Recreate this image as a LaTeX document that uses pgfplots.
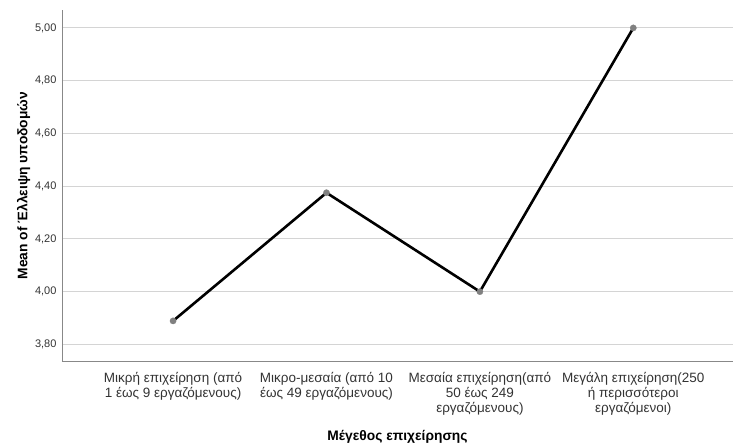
\documentclass[border=0pt]{standalone}
\usepackage{fontspec}
\setmainfont{Liberation Sans}
\usepackage{pgfplots}
\pgfplotsset{compat=1.18}
\definecolor{spssGrid}{HTML}{D4D4D4}
\definecolor{spssAxis}{HTML}{888888}
\definecolor{spssMark}{HTML}{808080}
\definecolor{spssText}{HTML}{333333}
\begin{document}
\begin{tikzpicture}
\begin{axis}[
	name=ax,
	scale only axis,
	width=671bp,
	height=351bp,
	xmin=-0.724, xmax=3.65,
	ymin=3.737, ymax=5.068,
	xtick={0,1,2,3},
	xticklabels={
		{Μικρή επιχείρηση (από\\1 έως 9 εργαζόμενους)},
		{Μικρο-μεσαία (από 10\\έως 49 εργαζόμενους)},
		{Μεσαία επιχείρηση(από\\50 έως 249\\εργαζόμενους)},
		{Μεγάλη επιχείρηση(250\\ή περισσότεροι\\εργαζόμενοι)}},
	x tick label style={font=\fontsize{13.5bp}{15bp}\selectfont,align=center,
		text=spssText,anchor=north,yshift=-8bp},
	ytick={3.8,4.0,4.2,4.4,4.6,4.8,5.0},
	y tick label style={font=\fontsize{11bp}{12bp}\selectfont,text=spssText,xshift=-2bp},
	yticklabel style={/pgf/number format/.cd,fixed,fixed zerofill,precision=2,use comma,assume math mode=true},
	major tick length=0pt,
	axis lines*=left,
	axis line style={draw=spssAxis,line width=0.9bp,-},
	ymajorgrids,
	major grid style={draw=spssGrid,line width=0.9bp},
	xlabel={\bfseries Μέγεθος επιχείρησης},
	ylabel={\bfseries Mean of Έλλειψη υποδομών},
	label style={font=\fontsize{13.8bp}{16bp}\selectfont},
	xlabel style={yshift=-8bp},
	ylabel style={yshift=-2bp},
	clip=false,
]
\addplot[black,line width=2.6bp,mark=*,mark size=3.2bp,
	mark options={solid,draw=spssMark,fill=spssMark,line width=0.2bp}]
	coordinates {(0,3.889) (1,4.375) (2,4.000) (3,5.000)};
\end{axis}
\pgfresetboundingbox
\path[use as bounding box] ([xshift=-62bp,yshift=-82bp]ax.south west) rectangle ([yshift=10bp]ax.north east);
\end{tikzpicture}
\end{document}
